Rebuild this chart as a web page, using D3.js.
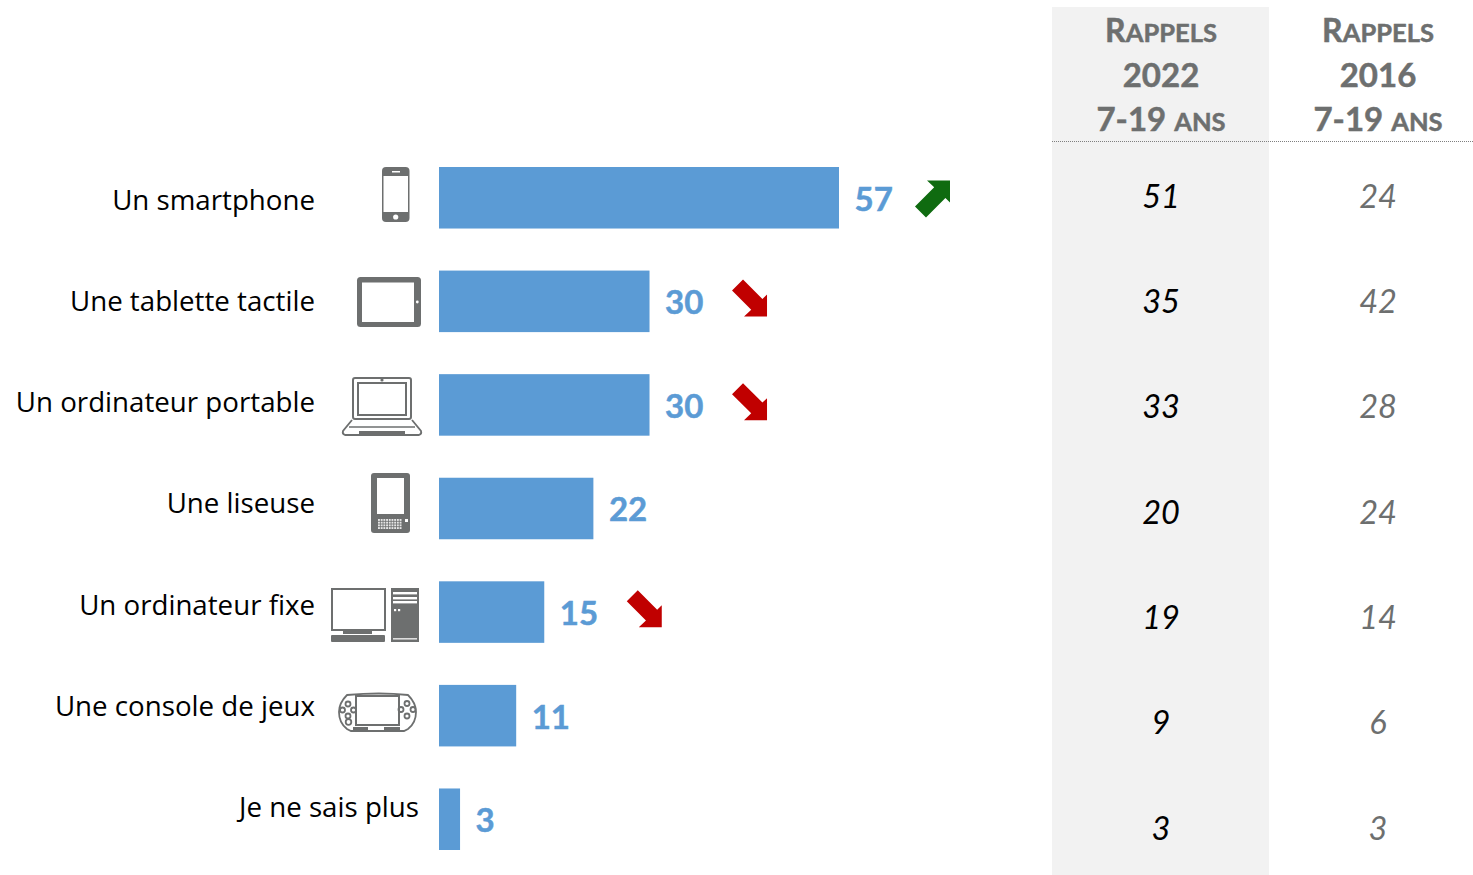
<!DOCTYPE html>
<html><head><meta charset="utf-8">
<script src="https://cdn.jsdelivr.net/npm/d3@7"></script>
<style>html,body{margin:0;padding:0;background:#fff;overflow:hidden}svg{display:block}</style>
</head><body><div id="c"></div>
<script>
const categories=["Un smartphone","Une tablette tactile","Un ordinateur portable","Une liseuse","Un ordinateur fixe","Une console de jeux","Je ne sais plus"];
const values=[57,30,30,22,15,11,3];
const trends=["up","down","down",null,"down",null,null];
const rappels2022=[51,35,33,20,19,9,3];
const rappels2016=[24,42,28,24,14,6,3];
const icons=["phone","tablet","laptop","reader","desktop","console",null];
const W=1473,H=875;
const blue="#5b9bd5",grey="#6d6f6f",labelFont="'Open Sans',sans-serif",numFont="Lato,sans-serif";
const svg=d3.select("#c").append("svg").attr("width",W).attr("height",H);
const x=d3.scaleLinear().domain([0,57]).range([439,839]);
const y=d3.scaleBand().domain(categories).range([167,850]).paddingInner(0.406);
const labelY=d3.scalePoint().domain(categories).range([200,807]);
const tableY=d3.scalePoint().domain(categories).range([196,828]);

svg.append("rect").attr("x",1052).attr("y",7).attr("width",217).attr("height",868).attr("fill","#f2f2f2");
svg.append("line").attr("x1",1052).attr("x2",1473).attr("y1",141.5).attr("y2",141.5)
  .attr("stroke","#7f7f7f").attr("stroke-width",1).attr("stroke-dasharray","1 1");

function header(cx,year){
  const t=svg.append("g").attr("fill",grey).attr("stroke",grey).attr("stroke-width",0.5)
    .attr("font-family",numFont).attr("font-weight",700).attr("text-anchor","middle");
  const a=t.append("text").attr("x",cx).attr("y",42).attr("font-size",32);
  a.append("tspan").text("R");a.append("tspan").attr("font-size",25.5).text("APPELS");
  t.append("text").attr("x",cx).attr("y",87).attr("font-size",33).text(year);
  const b=t.append("text").attr("x",cx).attr("y",131).attr("font-size",33);
  b.append("tspan").text("7-19 ");b.append("tspan").attr("font-size",25.5).text("ANS");
}
header(1161,"2022");header(1378,"2016");

function column(cx,vals,col){
  svg.append("g").selectAll("text").data(vals).join("text")
    .attr("x",cx).attr("y",(d,i)=>tableY(categories[i])).attr("dy","0.36em")
    .attr("text-anchor","middle").attr("font-family",numFont).attr("font-style","italic")
    .attr("font-size",32.5).attr("fill",col).text(d=>d);
}
column(1161,rappels2022,"#000");
column(1378,rappels2016,"#6d6f6f");

svg.append("g").selectAll("rect").data(values).join("rect")
  .attr("x",x(0)).attr("y",(d,i)=>y(categories[i])).attr("width",d=>x(d)-x(0)).attr("height",y.bandwidth()).attr("fill",blue);
svg.append("g").selectAll("text").data(values).join("text")
  .attr("x",d=>x(d)+15.5).attr("y",(d,i)=>y(categories[i])+y.bandwidth()/2+1).attr("dy","0.36em")
  .attr("font-family",numFont).attr("font-weight",700).attr("font-size",33).attr("fill",blue)
  .attr("stroke",blue).attr("stroke-width",0.5).text(d=>d);

svg.append("g").selectAll("text").data(categories).join("text")
  .attr("x",(d,i)=>icons[i]?315:419).attr("y",d=>labelY(d)).attr("dy","0.36em").attr("text-anchor","end")
  .attr("font-family",labelFont).attr("font-size",27.7).attr("fill","#000").text(d=>d);

const arrowPath="M0,0 L-23,0 L-15.8,-6.8 L-35,-26 L-24,-37 L-4.6,-17.6 L0,-22 Z";
trends.forEach((t,i)=>{
  if(!t) return;
  const c=categories[i],lx=x(values[i])+16;
  const g=svg.append("g");
  if(t==="down"){
    g.attr("transform",`translate(${lx+101.5},${y(c)+46})`)
     .append("path").attr("d",arrowPath).attr("fill","#c00000");
  } else {
    g.attr("transform",`translate(${lx+95},${y(c)+13.5}) scale(1,-1)`)
     .append("path").attr("d",arrowPath).attr("fill","#0f6b10");
  }
});

const iconDraw={
 phone(g){
  g.append("rect").attr("x",382).attr("y",167).attr("width",27.5).attr("height",55).attr("rx",4).attr("fill",grey);
  g.append("rect").attr("x",383.5).attr("y",176).attr("width",24.5).attr("height",36).attr("fill","#fff");
  g.append("circle").attr("cx",395.7).attr("cy",217).attr("r",2.6).attr("fill","#fff");
  g.append("rect").attr("x",392).attr("y",171).attr("width",8).attr("height",1.5).attr("fill","#fff");
 },
 tablet(g){
  g.append("rect").attr("x",357).attr("y",277).attr("width",64).attr("height",50).attr("rx",3.5).attr("fill",grey);
  g.append("rect").attr("x",362).attr("y",282.5).attr("width",52).attr("height",39.5).attr("fill","#fff");
  g.append("circle").attr("cx",417.3).attr("cy",302).attr("r",1.4).attr("fill","#fff");
 },
 laptop(g){
  const s=g.append("g").attr("fill","none").attr("stroke",grey);
  s.append("rect").attr("x",353).attr("y",378).attr("width",58).attr("height",41).attr("rx",2).attr("stroke-width",2);
  s.append("rect").attr("x",358).attr("y",383).attr("width",48).attr("height",32).attr("stroke-width",2);
  s.append("path").attr("d","M352,420 L343,431 Q342,434 345,435 L419,435 Q422,434 421,431 L412,420").attr("stroke-width",1.8);
  s.append("path").attr("d","M349,427 L415,427").attr("stroke-width",1.6);
  g.append("rect").attr("x",359).attr("y",431).attr("width",46).attr("height",4).attr("fill",grey);
  g.append("circle").attr("cx",382).attr("cy",380).attr("r",1.6).attr("fill",grey);
 },
 reader(g){
  g.append("rect").attr("x",371).attr("y",473).attr("width",39).attr("height",60).attr("rx",3).attr("fill",grey);
  g.append("rect").attr("x",377).attr("y",478).attr("width",27).attr("height",36).attr("fill","#fff");
  d3.range(4).forEach(r=>d3.range(9).forEach(c=>{
    g.append("rect").attr("x",378+c*2.7).attr("y",519+r*2.7).attr("width",1.9).attr("height",1.9).attr("fill","#e6e6e6");
  }));
  g.append("rect").attr("x",405).attr("y",519).attr("width",3).attr("height",3).attr("fill","#fff");
 },
 desktop(g){
  g.append("rect").attr("x",332).attr("y",589).attr("width",53).attr("height",41).attr("fill","#fff").attr("stroke",grey).attr("stroke-width",2);
  g.append("rect").attr("x",343).attr("y",630).attr("width",29).attr("height",4).attr("fill",grey);
  g.append("rect").attr("x",331).attr("y",635).attr("width",54).attr("height",7).attr("rx",1).attr("fill",grey);
  g.append("rect").attr("x",391).attr("y",588).attr("width",28).attr("height",54).attr("fill",grey);
  [592,597,601].forEach(v=>g.append("rect").attr("x",393).attr("y",v).attr("width",24).attr("height",2.4).attr("fill","#fff"));
  [394,398].forEach(v=>g.append("rect").attr("x",v).attr("y",609).attr("width",2.2).attr("height",2.2).attr("fill","#fff"));
  g.append("rect").attr("x",393).attr("y",638).attr("width",24).attr("height",1.6).attr("fill","#ddd");
 },
 console(g){
  const s=g.append("g").attr("fill","none").attr("stroke",grey).attr("stroke-width",1.8);
  s.append("path").attr("d","M347,695 Q380,692 408,695 Q416,703 416,712 Q416,723 408,729 L404,731 L351,731 L347,729 Q339,723 339,712 Q339,703 347,695 Z");
  s.append("rect").attr("x",356).attr("y",696).attr("width",43).attr("height",29).attr("stroke-width",2);
  [[348,704],[348,716],[342.5,710],[353.5,710],[407,703.5],[407,716],[401,709.5],[413,709.5]].forEach(p=>
    s.append("circle").attr("cx",p[0]).attr("cy",p[1]).attr("r",2.5));
  s.append("circle").attr("cx",348.5).attr("cy",722).attr("r",2.8);
  g.append("rect").attr("x",353).attr("y",727).attr("width",15).attr("height",3.5).attr("fill",grey);
  g.append("rect").attr("x",384).attr("y",727).attr("width",16).attr("height",3.5).attr("fill",grey);
 }
};
icons.forEach(k=>{ if(k) iconDraw[k](svg.append("g")); });
</script></body></html>
